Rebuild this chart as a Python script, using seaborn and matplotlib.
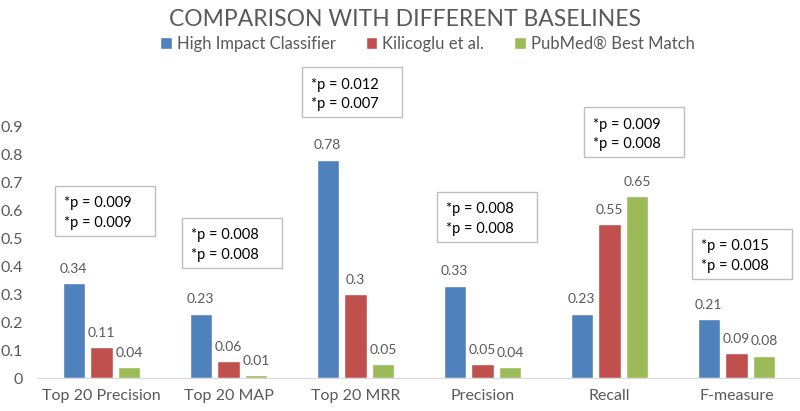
import pandas as pd
import matplotlib
matplotlib.use("Agg")
import matplotlib.pyplot as plt
from matplotlib.patches import Rectangle
import seaborn as sns

# Datos del gráfico
metrics = ["Top 20 Precision", "Top 20 MAP", "Top 20 MRR", "Precision", "Recall", "F-measure"]
methods = ["High Impact Classifier", "Kilicoglu et al.", "PubMed\u00ae Best Match"]
high_impact = [0.34, 0.23, 0.78, 0.33, 0.23, 0.21]
kilicoglu = [0.11, 0.06, 0.30, 0.05, 0.55, 0.09]
pubmed = [0.04, 0.01, 0.05, 0.04, 0.65, 0.08]

# p-valores de cada recuadro (vs Kilicoglu, vs PubMed)
p_kilicoglu = ["0.009", "0.008", "0.012", "0.008", "0.009", "0.015"]
p_pubmed = ["0.009", "0.008", "0.007", "0.008", "0.008", "0.008"]
# posición de los recuadros (desplazamiento x respecto a la categoría, base y en datos)
box_dx = [-0.366, -0.366, -0.421, -0.358, -0.201, -0.35]
box_y0 = [0.507, 0.393, 0.932, 0.486, 0.789, 0.354]
box_w, box_h = 0.787, 0.18

colors = ["#4F81BD", "#C0504D", "#9BBB59"]

df = pd.DataFrame({
    "metric": metrics * 3,
    "method": [methods[0]] * 6 + [methods[1]] * 6 + [methods[2]] * 6,
    "value": high_impact + kilicoglu + pubmed,
})

sns.set_style("white")
plt.rcParams["font.family"] = ["Lato", "DejaVu Sans"]

fig = plt.figure(figsize=(8, 4.11), dpi=100)
ax = fig.add_axes([0.0475, 0.080, 0.9525, 0.613])

sns.barplot(data=df, x="metric", y="value", hue="method", palette=colors,
            width=0.66, gap=0.21, ax=ax, saturation=1)

for cont in ax.containers:
    ax.bar_label(cont, fmt="%g", padding=6, fontsize=10, color="#595959")

for i in range(len(metrics)):
    x0 = i + box_dx[i]
    ax.add_patch(Rectangle((x0, box_y0[i]), box_w, box_h, fc="white", ec="#BFBFBF",
                           lw=1, clip_on=False, zorder=3))
    ax.text(x0 + 0.07, box_y0[i] + box_h / 2 - 0.008,
            f"*p = {p_kilicoglu[i]}\n*p = {p_pubmed[i]}",
            ha="left", va="center", fontsize=10.5, color="black", linespacing=1.5,
            clip_on=False, zorder=4)

ax.set_ylim(0, 0.9)
ax.set_xlim(-0.5, 5.5)
ax.set_yticks([i / 10 for i in range(10)])
ax.set_yticklabels(["0"] + [f"0.{i}" for i in range(1, 10)])
ax.set(xlabel="", ylabel="")
ax.tick_params(axis="y", length=0, pad=11, labelsize=11.5, labelcolor="#595959")
ax.tick_params(axis="x", length=0, pad=8, labelsize=11.5, labelcolor="#595959")
for s in ["top", "right", "left"]:
    ax.spines[s].set_visible(False)
ax.spines["bottom"].set_color("#D9D9D9")

sns.move_legend(ax, "center", bbox_to_anchor=(0.511, 1.326), ncol=3, frameon=False,
                title=None, fontsize=12, handlelength=0.7, handleheight=0.7,
                handletextpad=0.3, columnspacing=1.8)
for t in ax.get_legend().get_texts():
    t.set_color("#595959")

fig.text(0.506, 1 - 19 / 411, "COMPARISON WITH DIFFERENT BASELINES", ha="center",
         va="center", fontsize=16.5, color="#595959")

fig.savefig("out.png", dpi=100)
